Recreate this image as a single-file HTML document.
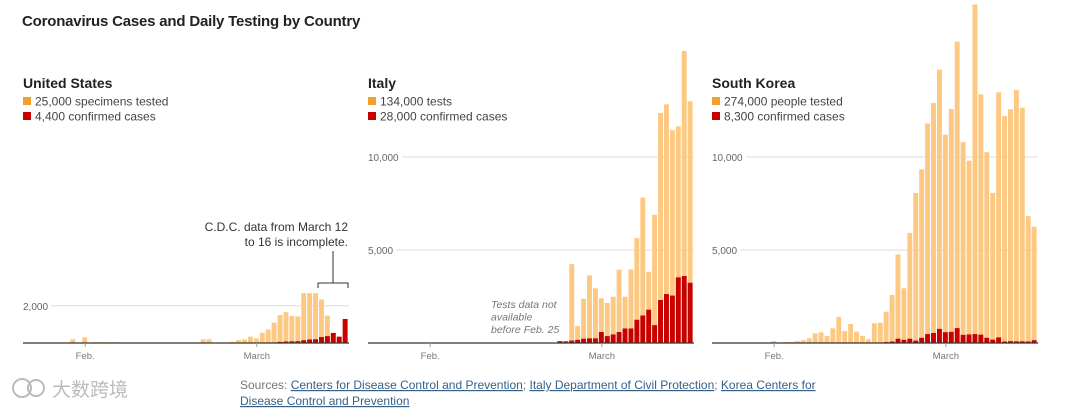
<!DOCTYPE html>
<html><head><meta charset="utf-8"><style>
body{margin:0;background:#fff;font-family:"Liberation Sans","Noto Sans CJK SC",sans-serif}
svg text{font-family:"Liberation Sans","Noto Sans CJK SC",sans-serif}
</style></head><body>
<svg id="c" width="1080" height="409" viewBox="0 0 1080 409">
<text x="22" y="26" font-size="15" font-weight="bold" fill="#222" letter-spacing="-0.2">Coronavirus Cases and Daily Testing by Country</text>
</svg>
<script>
const usTests=[0,0,30,30,30,30,20,30,200,0,300,0,50,40,40,40,40,30,0,0,30,20,10,10,0,0,0,0,0,10,200,200,20,20,30,60,160,200,340,250,550,730,1090,1500,1660,1450,1430,2680,2680,2680,2340,1470,540,340,1290];
const usCases=[0,0,0,0,0,0,0,0,0,0,0,0,0,0,0,0,0,0,0,0,0,0,0,0,0,0,0,0,0,0,0,0,0,0,0,0,0,0,0,0,0,0,0,60,80,90,100,150,190,200,320,370,540,340,1290];
const itTests=Array(34).fill(0).concat([4240,910,2380,3630,2940,2400,2150,2490,3940,2490,3960,5640,7820,3830,6890,12370,12830,11440,11650,15700,13000]);
const itCases=Array(31).fill(0).concat([20,100,90,130,170,230,250,250,590,370,460,590,780,780,1250,1480,1790,960,2310,2630,2550,3530,3600,3240]);
const krTests=[0,0,0,0,0,0,0,30,0,0,100,0,60,60,100,150,250,520,570,380,790,1400,640,1020,610,380,200,1060,1090,1680,2580,4760,2940,5920,8070,9340,11800,12900,14700,11200,12580,16200,10800,9800,18200,13370,10260,8070,13480,12200,12570,13600,12650,6820,6250];
const krCases=Array(29).fill(0).concat([50,80,230,170,230,130,280,480,540,760,580,600,800,440,460,480,450,280,180,300,80,100,90,90,80,150]);
const names=["United States","Italy","South Korea"];
const legTests=["25,000 specimens tested","134,000 tests","274,000 people tested"];
const legCases=["4,400 confirmed cases","28,000 confirmed cases","8,300 confirmed cases"];
const gridVals=[[2000],[5000,10000],[5000,10000]];
const monthLabels=["Feb.","March"];
const monthDays=[10.5,39.5];
const NS="http://www.w3.org/2000/svg";
const svg=document.getElementById('c');
const X0=[23,368,712],W=326,DAY=5.92,BASE=343,K=0.0186;
function y(v){return BASE-v*K;}
function xd(p,i){return X0[p]+i*DAY;}
function mk(tag,a,parent){const e=document.createElementNS(NS,tag);for(const k in a)e.setAttribute(k,a[k]);(parent||svg).appendChild(e);return e;}
function txt(s,a){const e=mk('text',a);e.textContent=s;return e;}
const data=[[usTests,usCases],[itTests,itCases],[krTests,krCases]];
for(let p=0;p<3;p++){
 const g=mk('g',{});
 
 
 for(const v of gridVals[p]){
  const lab=v.toLocaleString('en-US');
  const l=mk('line',{x1:X0[p]+(lab.length>5?34:28),x2:X0[p]+W,y1:y(v),y2:y(v),stroke:'#ddd','stroke-width':1},g);
  
  
  const t=mk('text',{x:X0[p],y:y(v)+4,'font-size':10,fill:'#666'},g);t.textContent=lab;
  
  
 }
 const [T,C]=data[p];
 for(let i=0;i<T.length;i++){
  if(T[i]>0){const r=mk('rect',{x:xd(p,i),y:y(T[i]),width:DAY-1,height:T[i]*K,fill:'#fdc982'},g);
  
  }
  if(C[i]>0){const r=mk('rect',{x:xd(p,i),y:y(C[i]),width:DAY-1,height:C[i]*K,fill:'#c80000'},g);
  
  }
 }
 const b=mk('line',{x1:X0[p],x2:X0[p]+W,y1:BASE,y2:BASE,stroke:'#333','stroke-width':1.2},g);
 
 
 for(let m=0;m<2;m++){
  const xx=xd(p,monthDays[m]);
  mk('line',{x1:xx,x2:xx,y1:BASE,y2:BASE+4,stroke:'#8aa','stroke-width':1},g);
  const t=mk('text',{x:xx,y:BASE+16,'font-size':9.5,fill:'#777','text-anchor':'middle'},g);t.textContent=monthLabels[m];
  
  
 }
 const n=txt(names[p],{x:X0[p],y:88,'font-size':14,'font-weight':'bold',fill:'#222'});
 
 
 mk('rect',{x:X0[p],y:97,width:8,height:8,fill:'#f0a02c'});
 const l1=txt(legTests[p],{x:X0[p]+12,y:105.5,'font-size':12,fill:'#444'});
 
 
 mk('rect',{x:X0[p],y:112,width:8,height:8,fill:'#c80000'});
 const l2=txt(legCases[p],{x:X0[p]+12,y:120.5,'font-size':12,fill:'#444'});
 
 
}
const a1=txt("C.D.C. data from March 12",{x:348,y:231,'font-size':12,fill:'#333','text-anchor':'end'});


txt("to 16 is incomplete.",{x:348,y:246,'font-size':12,fill:'#333','text-anchor':'end'});
mk('path',{d:'M318 288 V283 H348 V288 M333 283 V251',fill:'none',stroke:'#333','stroke-width':1});
const it=['Tests data not','available','before Feb. 25'];
it.forEach((s,i)=>{const t=txt(s,{x:491,y:308+i*12.5,'font-size':10.5,'font-style':'italic',fill:'#777'});

});
const s1=mk('text',{x:240,y:389,'font-size':12,fill:'#777'});


s1.innerHTML='Sources: <tspan fill="#36618a" text-decoration="underline">Centers for Disease Control and Prevention</tspan>; <tspan fill="#36618a" text-decoration="underline">Italy Department of Civil Protection</tspan>; <tspan fill="#36618a" text-decoration="underline">Korea Centers for</tspan>';
const s2=txt('Disease Control and Prevention',{x:240,y:405,'font-size':12,fill:'#36618a','text-decoration':'underline'});


const wm=txt('大数跨境',{x:52,y:396,'font-size':19,fill:'#bbb'});


mk('circle',{cx:22,cy:388,r:9,fill:'none',stroke:'#bbb','stroke-width':2});
mk('circle',{cx:36,cy:388,r:8,fill:'none',stroke:'#bbb','stroke-width':2});
</script>
</body></html>
